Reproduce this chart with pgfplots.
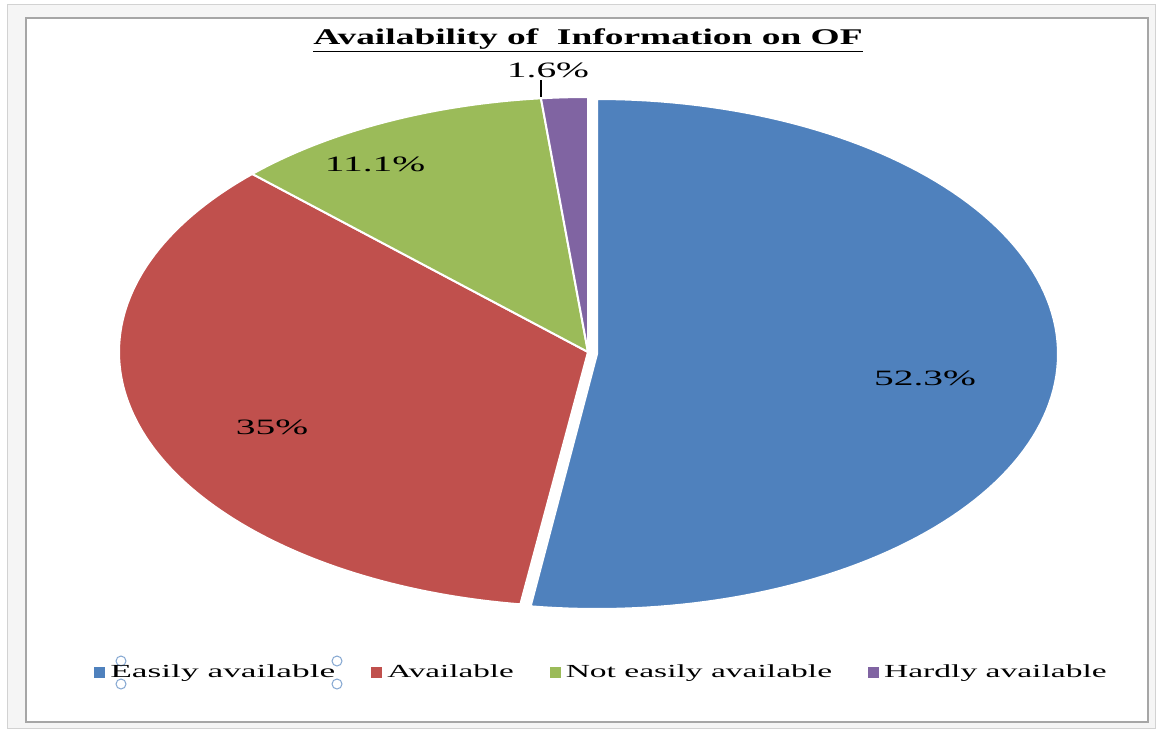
\documentclass[border=0pt]{standalone}
\usepackage{pgfplots}
\pgfplotsset{compat=1.18}
\usepackage{graphicx}
\usepackage{fontspec}
\setmainfont{Liberation Serif}
\definecolor{cBlue}{HTML}{4F81BD}
\definecolor{cRed}{HTML}{C0504D}
\definecolor{cGreen}{HTML}{9BBB59}
\definecolor{cPurple}{HTML}{8064A2}
\newcommand{\sx}[2]{\scalebox{#1}[1]{#2}}
\begin{document}
\begin{tikzpicture}
% shares in percent
\def\vA{52.3}\def\vB{35}\def\vC{11.1}\def\vD{1.6}
\pgfmathsetmacro{\aA}{90}
\pgfmathsetmacro{\aB}{\aA-3.6*\vA}
\pgfmathsetmacro{\aC}{\aB-3.6*\vB}
\pgfmathsetmacro{\aD}{\aC-3.6*\vC}
\pgfmathsetmacro{\aE}{\aD-3.6*\vD}
\def\cx{588}\def\cy{352}
\def\bx{597}\def\by{354}
\def\rx{469}\def\ry{255}
\def\brx{461}
\begin{axis}[width=1157bp,height=729bp,scale only axis,
  xmin=0,xmax=1157,ymin=0,ymax=729,y dir=reverse,
  hide axis,clip=false,
  legend columns=4,
  legend image code/.code={\fill[#1,draw=none] (2bp,-5.5bp) rectangle (13bp,5.5bp); \path (0bp,0bp) (15bp,0bp);},
  legend style={draw=none,fill=none,at={(axis cs:600,672)},anchor=center,
    font=\fontsize{18.5}{22}\selectfont,
    /tikz/every even column/.append style={column sep=31bp}},
]
\fill[white] (axis cs:0,0) rectangle (axis cs:1157,729);
\fill[gray!8,draw=gray!35] (axis cs:7,4) rectangle (axis cs:1155,728);
\fill[white,draw=gray!70,line width=1.2bp] (axis cs:26,18) rectangle (axis cs:1148,722);

\addplot[fill=cBlue,draw=white,line width=2bp,domain=\aB:\aA,samples=120]
  ({\bx+\brx*cos(x)},{\by-\ry*sin(x)}) -- (axis cs:\bx,\by) -- cycle;
\addlegendentry{\sx{1.92}{Easily available}}
\addplot[fill=cRed,draw=white,line width=2bp,domain=\aC:\aB,samples=100]
  ({\cx+\rx*cos(x)},{\cy-\ry*sin(x)}) -- (axis cs:\cx,\cy) -- cycle;
\addlegendentry{\sx{1.8}{Available}}
\addplot[fill=cGreen,draw=white,line width=2bp,domain=\aD:\aC,samples=50]
  ({\cx+\rx*cos(x)},{\cy-\ry*sin(x)}) -- (axis cs:\cx,\cy) -- cycle;
\addlegendentry{\sx{1.82}{Not easily available}}
\addplot[fill=cPurple,draw=white,line width=2bp,domain=\aE:\aD,samples=10]
  ({\cx+\rx*cos(x)},{\cy-\ry*sin(x)}) -- (axis cs:\cx,\cy) -- cycle;
\addlegendentry{\sx{1.82}{Hardly available}}

\node at (axis cs:588,40) {\fontsize{22.5}{27}\selectfont\bfseries\sx{1.67}{\underline{Availability of\ \ Information on OF}}};
\node at (axis cs:925,378) {\fontsize{22}{26}\selectfont\sx{1.8}{52.3\%}};
\node at (axis cs:272,427) {\fontsize{22}{26}\selectfont\sx{1.8}{35\%}};
\node at (axis cs:375,164) {\fontsize{22}{26}\selectfont\sx{1.8}{11.1\%}};
\node at (axis cs:548,70) {\fontsize{22}{26}\selectfont\sx{1.8}{1.6\%}};
\draw[black,line width=1.2bp] (axis cs:541,80) -- (axis cs:541,97);

\draw[cBlue!70,line width=1bp] (axis cs:121,661) circle[radius=5];
\draw[cBlue!70,line width=1bp] (axis cs:121,684) circle[radius=5];
\draw[cBlue!70,line width=1bp] (axis cs:337,661) circle[radius=5];
\draw[cBlue!70,line width=1bp] (axis cs:337,684) circle[radius=5];
\end{axis}
\end{tikzpicture}
\end{document}
